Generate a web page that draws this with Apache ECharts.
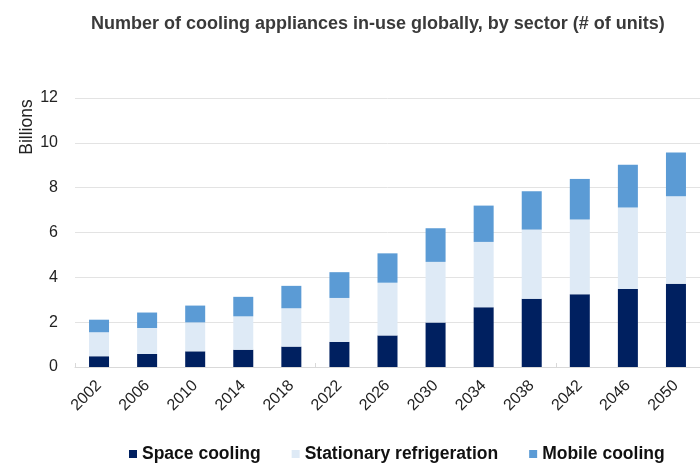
<!DOCTYPE html>
<html>
<head>
<meta charset="utf-8">
<script src="https://cdn.jsdelivr.net/npm/echarts@6/dist/echarts.min.js"></script>
<style>
  html, body { margin: 0; padding: 0; background: #fff; }
  #chart { width: 700px; height: 464px; }
</style>
</head>
<body>
<div id="chart"></div>
<script>
// years on the x axis
const years = ['2002', '2006', '2010', '2014', '2018', '2022', '2026', '2030', '2034', '2038', '2042', '2046', '2050'];
// billions of units per sector
const spaceCooling = [0.48, 0.58, 0.70, 0.77, 0.91, 1.12, 1.41, 1.98, 2.66, 3.04, 3.24, 3.48, 3.71];
const stationaryRefrigeration = [1.07, 1.16, 1.29, 1.49, 1.71, 1.96, 2.35, 2.71, 2.92, 3.09, 3.34, 3.63, 3.91];
const mobileCooling = [0.56, 0.69, 0.75, 0.87, 1.00, 1.15, 1.31, 1.50, 1.62, 1.71, 1.81, 1.91, 1.95];

const chart = echarts.init(document.getElementById('chart'));

const barStyle = { barWidth: 20, stack: 'total' };

const option = {
  animation: false,
  textStyle: { fontFamily: 'Liberation Sans, Arial, sans-serif' },
  title: {
    text: 'Number of cooling appliances in-use globally, by sector (# of units)',
    left: 86,
    top: 10,
    textStyle: { fontSize: 18, fontWeight: 'bold', color: '#3a3a3a' }
  },
  legend: {
    top: 440,
    left: 124,
    icon: 'rect',
    itemWidth: 8,
    itemHeight: 8,
    itemGap: 31,
    textStyle: { fontSize: 17.5, fontWeight: 'bold', color: '#111' },
    data: ['Space cooling', 'Stationary refrigeration', 'Mobile cooling']
  },
  grid: { left: 75, top: 98, width: 633, bottom: 97 },
  xAxis: {
    type: 'category',
    data: years,
    axisLine: { lineStyle: { color: '#d9d9d9' } },
    axisTick: { show: true, inside: true, length: 4, interval: 4, lineStyle: { color: '#d9d9d9' } },
    axisLabel: { rotate: 45, fontSize: 16, color: '#222', margin: 16 }
  },
  yAxis: {
    type: 'value',
    min: 0,
    max: 12,
    interval: 2,
    axisLine: { show: false },
    axisTick: { show: false },
    axisLabel: { fontSize: 16, color: '#222', margin: 17 },
    splitLine: { lineStyle: { color: '#e3e3e3' } }
  },
  graphic: [{
    type: 'text',
    x: 27,
    y: 127,
    rotation: Math.PI / 2,
    style: {
      text: 'Billions',
      fontSize: 17.5,
      fontFamily: 'Liberation Sans, Arial, sans-serif',
      fill: '#222',
      align: 'center',
      verticalAlign: 'middle'
    }
  }],
  series: [
    Object.assign({ name: 'Space cooling', type: 'bar', data: spaceCooling, itemStyle: { color: '#002060' } }, barStyle),
    Object.assign({ name: 'Stationary refrigeration', type: 'bar', data: stationaryRefrigeration, itemStyle: { color: '#deeaf6' } }, barStyle),
    Object.assign({ name: 'Mobile cooling', type: 'bar', data: mobileCooling, itemStyle: { color: '#5b9bd5' } }, barStyle)
  ]
};

chart.setOption(option);
window.addEventListener('resize', () => chart.resize());
</script>
</body>
</html>
